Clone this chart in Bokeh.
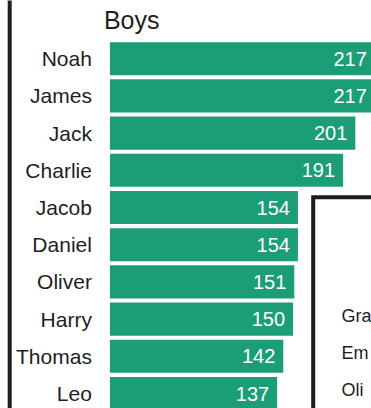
from bokeh.plotting import figure
from bokeh.models import Range1d, ColumnDataSource
from bokeh.core.properties import value
from bokeh.embed import file_html
from bokeh.resources import INLINE

# ---- data ----
boys_title = "Boys"
boys_names = ["Noah", "James", "Jack", "Charlie", "Jacob", "Daniel",
              "Oliver", "Harry", "Thomas", "Leo"]
boys_counts = [217, 217, 201, 191, 154, 154, 151, 150, 142, 137]
# girls' panel is cropped by the picture edge: only these parts are visible
girls_labels = ["Gra", "Em", "Oli"]

# ---- layout helpers (pixel -> data) ----
W, H = 371, 408
X0_PX = 109.4        # pixel of value 0
PX_PER_UNIT = 1.221  # pixels per count
ROW0_PX = 58.2       # pixel centre of first row
ROW_PX = 37.2        # row pitch in pixels


def px_x(px):
    return (px - X0_PX) / PX_PER_UNIT


def px_y(py):
    return (py - ROW0_PX) / ROW_PX


FONT = value("Liberation Sans")
INK = "#1e1e1e"
GREEN = "#1b9e77"

p = figure(width=W, height=H, output_backend="svg", toolbar_location=None,
           x_range=Range1d(px_x(0), px_x(W)),
           y_range=Range1d(px_y(H), px_y(0)),
           min_border=0, outline_line_color=None,
           x_axis_location=None, y_axis_location=None,
           background_fill_color="white", border_fill_color="white")
p.xgrid.visible = False
p.ygrid.visible = False

rows = list(range(len(boys_names)))
src = ColumnDataSource(dict(name=boys_names, count=boys_counts, row=rows,
                            label=[str(c) for c in boys_counts]))

p.hbar(y="row", left=0, right="count", height=0.89, source=src,
       fill_color=GREEN, line_color=None)

p.text(x="count", y="row", text="label", source=src, x_offset=-8,
       text_align="right", text_baseline="middle", text_color="white",
       text_font=FONT, text_font_size="20px")

p.text(x=0, y="row", text="name", source=src, x_offset=-18,
       text_align="right", text_baseline="middle", text_color=INK,
       text_font=FONT, text_font_size="21px")

p.text(x=[0], y=[px_y(19)], text=[boys_title], x_offset=-6,
       text_align="left", text_baseline="middle", text_color=INK,
       text_font=FONT, text_font_size="25px")

# left frame line of the outer panel
p.line(x=[px_x(9.2), px_x(9.2)], y=[px_y(-20), px_y(H + 20)],
       line_width=4, line_color="#1e1e1e")

# inset panel (girls), mostly outside the visible area
p.line(x=[px_x(W + 20), px_x(312.7), px_x(312.7)],
       y=[px_y(196.7), px_y(196.7), px_y(H + 20)],
       line_width=4, line_color="#1e1e1e", line_join="miter")

g_rows = [px_y(315.5) + i for i in range(len(girls_labels))]
p.text(x=[px_x(341)] * len(girls_labels), y=g_rows, text=girls_labels,
       text_align="left", text_baseline="middle", text_color=INK,
       text_font=FONT, text_font_size="18px")

open("out.html", "w").write(file_html(p, INLINE))
